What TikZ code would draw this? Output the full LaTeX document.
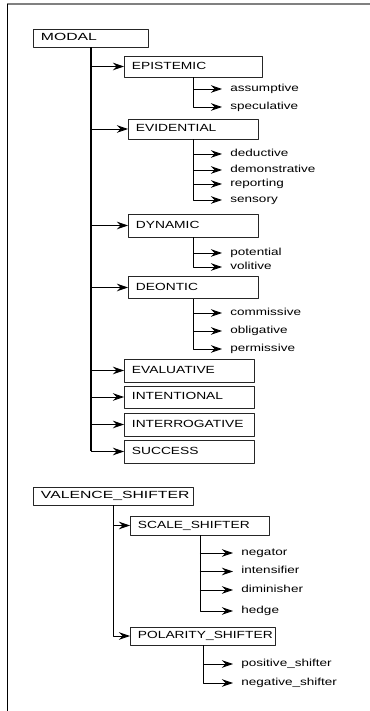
\documentclass[tikz,border=0pt]{standalone}
\usepackage{fontspec}
\usepackage{tikz}
\usetikzlibrary{arrows.meta}
\newfontfamily\headfont[FakeStretch=1.52]{Liberation Sans}
\newfontfamily\labelfont[FakeStretch=1.33]{Liberation Sans}

\tikzset{
  headbox/.style={draw=black!85,line width=0.9bp,anchor=west,align=left,
    inner xsep=7.5bp,inner ysep=0bp,text height=7.5bp,text depth=2bp,
    font=\headfont\fontsize{10.4pt}{12pt}\selectfont},
  catbox/.style={headbox,font=\labelfont\fontsize{10.4pt}{12pt}\selectfont},
  leaf/.style={anchor=west,inner xsep=8bp,inner ysep=0bp,text height=7bp,text depth=2bp,
    font=\labelfont\fontsize{10.2pt}{12pt}\selectfont},
}

\begin{document}
\begin{tikzpicture}[>={Stealth[length=11bp,width=7.5bp,inset=3.5bp]},line width=0.9bp,line join=bevel]
\useasboundingbox (0,0) rectangle (370bp,711bp);
%% frame
\draw [black!50,line width=1.5bp] (7bp,707bp) -- (370bp,707bp);
\draw [black] (7bp,707bp) -- (7bp,0bp);
%%
\node (modal) at (33bp,673bp) [headbox,text width=100bp,minimum height=18bp] {MODAL};
  \node (epistemic) at (124bp,644.5bp) [catbox,text width=123bp,minimum height=21bp] {EPISTEMIC};
  \node (evidential) at (128bp,582bp) [catbox,text width=115bp,minimum height=20bp] {EVIDENTIAL};
  \node (dynamic) at (128bp,485.5bp) [catbox,text width=115bp,minimum height=23bp] {DYNAMIC};
  \node (deontic) at (128bp,423.5bp) [catbox,text width=115bp,minimum height=22bp] {DEONTIC};
  \node (evaluative) at (124bp,340.5bp) [catbox,text width=115bp,minimum height=23bp] {EVALUATIVE};
  \node (intentional) at (124bp,314bp) [catbox,text width=115bp,minimum height=22bp] {INTENTIONAL};
  \node (interrogative) at (124bp,286.5bp) [catbox,text width=115bp,minimum height=23bp] {INTERROGATIVE};
  \node (success) at (124bp,259.5bp) [catbox,text width=115bp,minimum height=23bp] {SUCCESS};
  \node (assumptive) at (222bp,622bp) [leaf] {assumptive};
  \node (speculative) at (222bp,604bp) [leaf] {speculative};
  \node (deductive) at (222bp,557bp) [leaf] {deductive};
  \node (demonstrative) at (222bp,541bp) [leaf] {demonstrative};
  \node (reporting) at (222bp,527bp) [leaf] {reporting};
  \node (sensory) at (222bp,511bp) [leaf] {sensory};
  \node (potential) at (222bp,458bp) [leaf] {potential};
  \node (volitive) at (222bp,444bp) [leaf] {volitive};
  \node (commissive) at (222bp,398bp) [leaf] {commissive};
  \node (obligative) at (222bp,380bp) [leaf] {obligative};
  \node (permissive) at (222bp,362bp) [leaf] {permissive};
\node (valence) at (33bp,215bp) [headbox,text width=145bp,minimum height=18bp] {VALENCE\_SHIFTER};
  \node (scale) at (130bp,185.5bp) [catbox,text width=124bp,minimum height=19bp] {SCALE\_SHIFTER};
  \node (polarity) at (130bp,75bp) [catbox,text width=130bp,minimum height=18bp] {POLARITY\_SHIFTER};
  \node (negator) at (233bp,158bp) [leaf] {negator};
  \node (intensifier) at (233bp,139.5bp) [leaf] {intensifier};
  \node (diminisher) at (233bp,121bp) [leaf] {diminisher};
  \node (hedge) at (233bp,100bp) [leaf] {hedge};
  \node (positive) at (233bp,47bp) [leaf] {positive\_shifter};
  \node (negative) at (233bp,28bp) [leaf] {negative\_shifter};
%%
  \draw [line width=2bp] (modal.south) -- (modal.south |- success.west);
  \draw [->] (modal.south |- epistemic.west) -- (epistemic.west);
  \draw [->] (modal.south |- evidential.west) -- (evidential.west);
  \draw [->] (modal.south |- dynamic.west) -- (dynamic.west);
  \draw [->] (modal.south |- deontic.west) -- (deontic.west);
  \draw [->] (modal.south |- evaluative.west) -- (evaluative.west);
  \draw [->] (modal.south |- intentional.west) -- (intentional.west);
  \draw [->] (modal.south |- interrogative.west) -- (interrogative.west);
  \draw [->] (modal.south |- success.west) -- (success.west);
  \draw [->] (epistemic.south |- assumptive.west) -- (assumptive.west);
  \draw [->] (epistemic.south) |- (speculative.west);
  \draw [->] (evidential.south |- deductive.west) -- (deductive.west);
  \draw [->] (evidential.south |- demonstrative.west) -- (demonstrative.west);
  \draw [->] (evidential.south |- reporting.west) -- (reporting.west);
  \draw [->] (evidential.south) |- (sensory.west);
  \draw [->] (dynamic.south |- potential.west) -- (potential.west);
  \draw [->] (dynamic.south) |- (volitive.west);
  \draw [->] (deontic.south |- commissive.west) -- (commissive.west);
  \draw [->] (deontic.south |- obligative.west) -- (obligative.west);
  \draw [->] (deontic.south) |- (permissive.west);
  \draw [->] (valence.south |- scale.west) -- (scale.west);
  \draw [->] (valence.south) |- (polarity.west);
  \draw [->] (scale.south |- negator.west) -- (negator.west);
  \draw [->] (scale.south |- intensifier.west) -- (intensifier.west);
  \draw [->] (scale.south |- diminisher.west) -- (diminisher.west);
  \draw [->] (scale.south) |- (hedge.west);
  \draw [->] (polarity.south |- positive.west) -- (positive.west);
  \draw [->] (polarity.south) |- (negative.west);
%
\end{tikzpicture}
\end{document}
